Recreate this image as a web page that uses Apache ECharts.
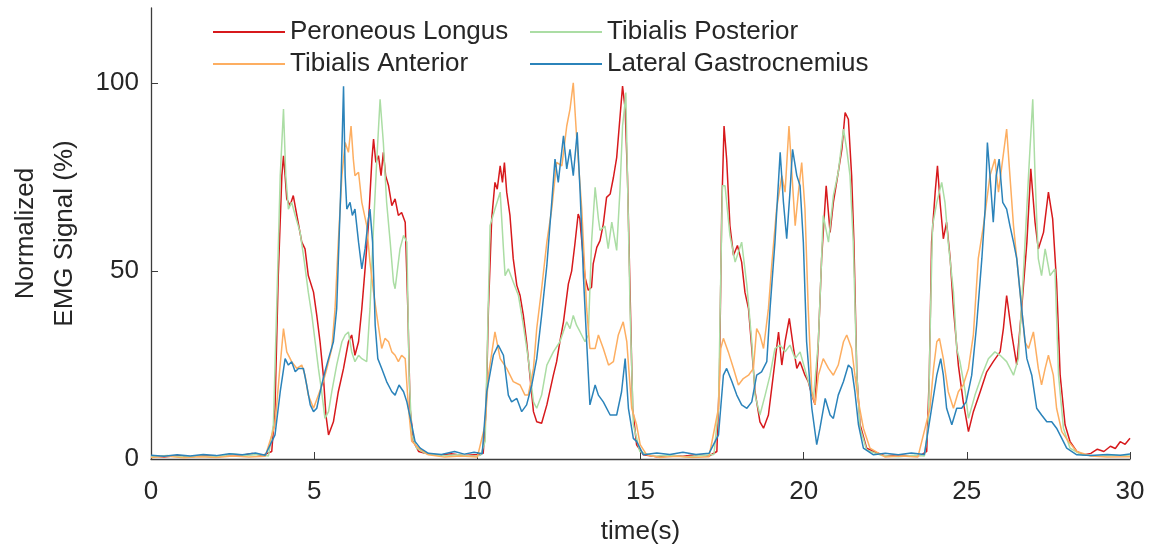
<!DOCTYPE html>
<html>
<head>
<meta charset="utf-8">
<script src="https://cdn.jsdelivr.net/npm/echarts@6/dist/echarts.min.js"></script>
<style>
html,body{margin:0;padding:0;background:#fff;}
#chart{width:1166px;height:558px;}
</style>
</head>
<body>
<div id="chart"></div>
<script>
// ---- data: [time (s), normalized EMG (%)] ----
const seriesNames = ['Peroneous Longus', 'Tibialis Posterior', 'Tibialis Anterior', 'Lateral Gastrocnemius'];
const xTicks = [0, 5, 10, 15, 20, 25, 30];
const yTicks = [0, 50, 100];

const peroneousLongus = [
[0,0.8],[0.4,0.5],[0.8,0.9],[1.2,0.6],[1.6,0.9],[2.0,0.7],[2.4,1.2],[2.8,1.0],[3.1,1.5],[3.4,0.9],[3.70,2.0],
[3.80,13.5],[3.90,48.8],[4.01,75.4],[4.06,80.7],[4.11,75.4],[4.16,69.2],[4.26,67.4],[4.36,70.1],[4.47,64.8],[4.62,57.7],[4.72,55.9],[4.82,48.8],[4.98,44.4],[5.08,38.2],[5.18,31.2],[5.28,22.3],[5.36,11.7],[5.44,6.4],[5.59,9.9],[5.74,17.9],[5.90,24.1],[6.05,31.2],[6.15,33.0],[6.25,27.6],[6.36,31.2],[6.46,40.0],[6.56,50.6],[6.66,62.1],[6.77,79.8],[6.82,85.1],[6.89,78.9],[6.97,80.7],[7.05,75.4],[7.12,81.6],[7.19,75.4],[7.28,72.7],[7.38,67.4],[7.48,69.2],[7.58,64.8],[7.68,65.6],[7.79,63.0],[7.87,40.0],[7.94,13.5],[8.04,4.7],[8.20,2.0],[8.40,1.5],
[8.8,1.0],[9.2,1.4],[9.6,0.9],[10.0,1.2],[10.18,1.5],
[10.27,13.5],[10.34,40.0],[10.44,63.9],[10.54,73.6],[10.61,71.8],[10.70,78.0],[10.77,73.6],[10.83,78.9],[10.90,71.0],[11.00,64.8],[11.10,53.3],[11.21,46.2],[11.31,43.5],[11.41,38.2],[11.51,31.2],[11.61,22.3],[11.72,12.6],[11.82,9.9],[11.97,9.5],[12.13,14.4],[12.33,22.3],[12.43,25.9],[12.53,31.2],[12.64,36.5],[12.79,46.6],[12.89,50.0],[12.99,57.2],[13.09,65.2],[13.14,64.0],[13.20,58.0],[13.30,48.4],[13.40,44.9],[13.50,45.7],[13.55,51.9],[13.66,56.3],[13.76,58.1],[13.86,62.5],[13.96,69.6],[14.07,70.5],[14.17,74.9],[14.27,80.2],[14.37,90.8],[14.45,99.2],[14.53,93.1],[14.60,75.4],[14.68,44.4],[14.76,13.5],[14.88,3.8],[15.09,1.1],
[15.5,0.6],[15.9,1.0],[16.3,0.7],[16.7,1.1],[17.1,0.8],[17.34,2.0],
[17.42,22.3],[17.49,66.5],[17.56,88.6],[17.64,79.8],[17.74,62.1],[17.85,54.2],[17.97,56.8],[18.10,52.4],[18.20,44.4],[18.31,40.0],[18.41,29.4],[18.51,17.9],[18.66,9.9],[18.77,8.2],[18.92,11.7],[19.07,22.3],[19.23,33.8],[19.33,25.0],[19.43,31.2],[19.56,37.4],[19.69,29.4],[19.79,24.1],[19.89,25.9],[20.04,22.3],[20.14,20.6],[20.25,17.0],[20.35,14.4],[20.45,31.2],[20.55,53.3],[20.69,72.7],[20.81,60.3],[20.91,68.3],[21.01,73.6],[21.17,82.4],[21.27,92.2],[21.37,90.4],[21.47,75.4],[21.54,57.7],[21.63,22.3],[21.73,9.1],[21.93,2.9],[22.14,2.0],
[22.5,0.8],[22.9,1.1],[23.3,0.7],[23.6,1.0],[23.77,2.0],
[23.85,22.3],[23.92,57.7],[24.03,71.0],[24.10,78.0],[24.18,68.3],[24.28,58.6],[24.38,63.0],[24.49,53.3],[24.59,40.0],[24.74,25.0],[24.89,15.2],[25.05,7.3],[25.20,12.6],[25.41,17.9],[25.61,23.2],[25.81,25.9],[26.02,28.5],[26.12,34.7],[26.22,43.5],[26.38,33.0],[26.53,25.0],[26.68,40.0],[26.84,57.7],[26.96,77.2],[27.09,63.0],[27.19,55.9],[27.35,60.3],[27.50,71.0],[27.63,63.9],[27.75,47.1],[27.86,22.3],[28.01,9.1],[28.16,4.7],[28.37,2.0],[28.57,1.1],
[28.8,1.5],[29.0,2.6],[29.2,2.0],[29.4,3.4],[29.55,2.8],[29.7,4.6],[29.85,3.9],[30,5.5]
];

const tibialisPosterior = [
[0,0.6],[0.5,0.9],[1.0,0.5],[1.5,0.8],[2.0,0.6],[2.5,1.3],[2.9,0.9],[3.3,1.2],[3.6,0.8],
[3.75,9.1],[3.85,40.0],[3.96,75.4],[4.06,93.1],[4.13,75.4],[4.21,66.5],[4.31,68.3],[4.42,64.8],[4.57,60.3],[4.70,52.4],[4.82,44.4],[4.93,38.2],[5.03,31.2],[5.13,24.1],[5.23,17.9],[5.33,10.8],[5.44,12.6],[5.54,17.9],[5.69,25.0],[5.85,31.2],[5.95,33.0],[6.05,33.8],[6.15,28.5],[6.25,25.9],[6.36,27.6],[6.46,26.7],[6.61,25.9],[6.71,40.0],[6.82,62.1],[6.92,79.8],[7.02,95.7],[7.12,84.2],[7.22,68.3],[7.33,57.7],[7.43,47.1],[7.48,45.3],[7.53,48.8],[7.63,55.9],[7.74,59.5],[7.84,57.7],[7.91,22.3],[7.99,6.4],[8.14,2.9],[8.40,1.5],
[8.9,0.8],[9.4,1.1],[9.9,0.7],[10.1,1.0],
[10.24,4.7],[10.31,31.2],[10.39,62.1],[10.54,66.5],[10.70,71.0],[10.80,55.9],[10.85,48.8],[10.95,50.6],[11.10,47.1],[11.26,43.5],[11.41,35.6],[11.56,26.7],[11.72,15.2],[11.82,13.5],[11.97,17.0],[12.13,25.0],[12.33,28.5],[12.53,31.2],[12.74,36.5],[12.84,34.7],[12.94,38.2],[13.04,35.6],[13.15,33.8],[13.30,31.2],[13.40,33.0],[13.50,57.7],[13.61,72.3],[13.71,63.9],[13.76,60.8],[13.91,62.0],[14.01,56.0],[14.12,63.0],[14.27,55.5],[14.37,71.4],[14.45,88.6],[14.50,92.6],[14.55,97.5],[14.60,75.4],[14.68,40.0],[14.78,9.1],[14.98,2.0],
[15.4,0.7],[15.9,1.0],[16.4,0.6],[16.9,0.9],[17.25,1.2],
[17.39,13.5],[17.46,48.8],[17.51,72.7],[17.59,72.7],[17.74,59.5],[17.90,52.4],[18.10,57.7],[18.26,46.2],[18.41,31.2],[18.51,17.0],[18.66,11.7],[18.82,17.0],[18.97,22.3],[19.12,29.4],[19.28,30.3],[19.43,28.5],[19.58,30.3],[19.74,26.7],[19.89,28.5],[20.09,22.3],[20.30,16.1],[20.45,31.2],[20.60,64.8],[20.76,57.7],[20.91,70.1],[21.06,76.3],[21.22,87.8],[21.32,82.4],[21.42,75.4],[21.52,57.7],[21.63,22.3],[21.73,8.2],[21.93,2.4],
[22.4,0.9],[22.9,0.6],[23.4,1.0],[23.7,0.8],
[23.82,9.1],[23.89,40.0],[23.95,62.1],[24.08,68.3],[24.23,73.6],[24.33,68.3],[24.43,57.7],[24.59,44.4],[24.69,29.4],[24.79,25.9],[24.95,17.9],[25.05,10.8],[25.25,17.0],[25.46,22.3],[25.66,26.7],[25.86,28.5],[26.02,27.6],[26.22,25.9],[26.43,22.3],[26.58,26.7],[26.73,48.8],[26.89,75.4],[27.02,95.7],[27.09,75.4],[27.19,53.3],[27.29,48.8],[27.40,55.9],[27.55,48.8],[27.70,50.6],[27.81,22.3],[27.96,8.2],[28.16,2.9],
[28.5,1.2],[29.0,0.7],[29.5,1.0],[30,0.8]
];

const tibialisAnterior = [
[0,0.4],[0.5,0.7],[1.0,0.3],[1.5,0.6],[2.0,0.4],[2.5,0.8],[3.0,0.5],[3.5,0.7],
[3.80,9.1],[3.93,22.3],[4.06,34.7],[4.16,28.5],[4.31,25.9],[4.47,24.1],[4.62,25.0],[4.72,22.3],[4.82,17.0],[4.98,13.5],[5.13,17.0],[5.28,20.6],[5.39,24.1],[5.54,29.4],[5.64,40.0],[5.74,57.7],[5.85,75.4],[5.95,84.2],[6.05,81.6],[6.13,88.6],[6.20,79.8],[6.25,75.4],[6.36,76.3],[6.46,68.3],[6.61,62.1],[6.71,52.4],[6.82,44.4],[6.92,38.2],[7.07,29.4],[7.17,32.1],[7.28,31.2],[7.38,28.5],[7.48,27.6],[7.58,25.9],[7.68,27.6],[7.79,26.7],[7.89,13.5],[7.99,4.7],[8.20,2.9],[8.50,1.1],
[9.0,0.5],[9.5,0.8],[10.0,0.5],
[10.24,9.1],[10.34,22.3],[10.54,33.8],[10.70,26.7],[10.90,24.1],[11.10,20.6],[11.31,19.7],[11.46,17.0],[11.56,17.0],[11.72,24.1],[11.82,34.7],[11.97,45.3],[12.13,57.7],[12.28,66.5],[12.43,78.9],[12.59,78.0],[12.74,88.6],[12.84,93.1],[12.94,100.1],[13.04,86.0],[13.20,66.5],[13.35,40.0],[13.45,29.4],[13.61,29.4],[13.71,33.0],[13.86,29.4],[14.02,25.0],[14.17,25.9],[14.32,33.0],[14.47,36.5],[14.58,31.2],[14.73,13.5],[14.88,9.1],[14.99,3.8],[15.19,1.1],
[15.6,0.4],[16.1,0.7],[16.6,0.4],[17.1,0.6],
[17.39,13.5],[17.46,29.4],[17.54,32.1],[17.69,28.5],[17.85,24.1],[18.00,19.7],[18.15,21.4],[18.31,22.3],[18.46,24.1],[18.56,34.7],[18.66,33.0],[18.77,29.4],[18.92,40.0],[19.02,51.5],[19.17,66.5],[19.33,75.4],[19.43,71.0],[19.55,88.6],[19.63,77.2],[19.74,62.1],[19.84,71.0],[19.94,78.9],[20.04,66.5],[20.14,40.0],[20.25,17.9],[20.35,14.4],[20.45,22.3],[20.60,26.7],[20.76,24.1],[20.91,22.3],[21.06,25.0],[21.22,31.2],[21.32,33.0],[21.47,29.4],[21.57,22.3],[21.68,15.2],[21.83,8.2],[22.03,2.9],
[22.5,0.5],[23.0,0.8],[23.5,0.5],
[23.87,13.5],[23.98,24.1],[24.08,31.2],[24.16,32.1],[24.28,26.7],[24.43,17.9],[24.59,13.5],[24.74,17.9],[24.89,19.7],[25.05,24.1],[25.20,33.0],[25.35,53.3],[25.51,62.1],[25.71,75.4],[25.86,79.8],[25.97,71.0],[26.10,79.8],[26.22,87.8],[26.32,75.4],[26.43,62.1],[26.53,53.3],[26.68,40.0],[26.78,31.2],[26.89,29.4],[27.04,33.8],[27.19,24.1],[27.29,19.7],[27.40,24.1],[27.50,27.6],[27.65,22.3],[27.75,13.5],[27.91,7.3],[28.11,4.7],[28.37,2.0],
[28.8,0.8],[29.3,0.5],[30,0.6]
];

const lateralGastrocnemius = [
[0,1.0],[0.4,0.7],[0.8,1.1],[1.2,0.8],[1.6,1.2],[2.0,0.9],[2.4,1.4],[2.8,1.1],[3.2,1.6],[3.5,1.0],
[3.80,6.4],[3.96,17.9],[4.11,26.7],[4.21,25.0],[4.31,25.9],[4.42,23.2],[4.52,24.1],[4.67,24.1],[4.77,19.7],[4.88,14.4],[4.98,12.6],[5.08,13.5],[5.23,19.7],[5.33,23.2],[5.44,26.7],[5.59,31.2],[5.69,40.0],[5.76,57.7],[5.83,75.4],[5.90,99.2],[5.95,75.4],[6.00,66.5],[6.10,68.3],[6.17,64.8],[6.25,66.5],[6.36,57.7],[6.46,50.6],[6.56,55.9],[6.66,63.9],[6.71,66.5],[6.79,57.7],[6.87,35.6],[6.95,26.7],[7.07,24.1],[7.22,20.6],[7.38,17.9],[7.48,17.0],[7.60,19.7],[7.74,17.9],[7.84,15.2],[7.99,9.1],[8.09,4.7],[8.25,2.9],[8.50,1.5],
[8.9,1.2],[9.3,2.0],[9.6,1.3],[9.9,1.8],[10.15,1.4],
[10.29,17.9],[10.49,27.6],[10.64,30.3],[10.80,27.6],[10.95,17.0],[11.05,15.2],[11.21,16.1],[11.36,12.6],[11.51,14.4],[11.67,19.7],[11.82,26.7],[11.97,38.2],[12.13,51.5],[12.28,68.3],[12.38,79.8],[12.48,73.6],[12.64,86.0],[12.74,77.2],[12.84,82.4],[12.94,75.4],[13.06,86.9],[13.15,71.0],[13.25,48.8],[13.35,31.2],[13.45,14.4],[13.61,19.7],[13.71,17.0],[13.86,15.2],[14.07,11.7],[14.27,11.7],[14.42,17.9],[14.53,26.7],[14.63,13.5],[14.78,5.5],[14.88,4.7],[15.09,1.1],
[15.5,1.6],[15.9,1.2],[16.3,1.8],[16.7,1.2],[17.1,1.5],
[17.39,6.4],[17.54,22.3],[17.64,24.1],[17.80,20.6],[17.95,17.0],[18.10,14.4],[18.26,13.5],[18.41,15.2],[18.56,22.3],[18.71,23.2],[18.87,25.9],[18.97,40.0],[19.12,57.7],[19.28,81.6],[19.38,68.3],[19.48,58.6],[19.58,71.0],[19.66,82.4],[19.79,75.4],[19.89,72.7],[19.99,57.7],[20.09,31.2],[20.25,13.5],[20.40,3.8],[20.50,8.2],[20.66,16.1],[20.81,11.7],[20.91,10.8],[21.06,17.0],[21.22,20.6],[21.37,25.0],[21.47,24.1],[21.57,17.9],[21.68,9.1],[21.83,2.9],[22.14,1.1],
[22.5,1.5],[22.9,1.1],[23.3,1.6],[23.7,1.2],
[23.92,13.5],[24.08,22.3],[24.20,26.7],[24.28,22.3],[24.38,13.5],[24.54,9.1],[24.69,13.5],[24.84,13.5],[24.98,15.2],[25.15,22.3],[25.30,35.6],[25.46,53.3],[25.56,66.5],[25.63,84.2],[25.71,75.4],[25.81,63.0],[25.90,75.4],[25.99,79.8],[26.10,68.3],[26.22,66.5],[26.32,62.1],[26.43,57.7],[26.53,53.3],[26.68,40.0],[26.84,26.7],[26.99,22.3],[27.14,13.5],[27.29,11.7],[27.45,9.9],[27.60,9.9],[27.75,8.2],[27.91,5.5],[28.06,2.9],[28.37,1.1],
[28.8,0.9],[29.3,1.2],[29.7,1.0],[30,1.3]
];

const colors = ['#d7191c', '#abdda4', '#fdae61', '#2b83ba'];
const dataSets = [peroneousLongus, tibialisPosterior, tibialisAnterior, lateralGastrocnemius];

const chart = echarts.init(document.getElementById('chart'), null, {renderer: 'canvas'});
const font = 'Liberation Sans, Arial, sans-serif';
const textColor = '#262626';

const legendCommon = {
  orient: 'vertical',
  icon: 'rect',
  itemWidth: 72,
  itemHeight: 2,
  itemGap: 6,
  padding: 0,
  textStyle: {fontFamily: font, fontSize: 26, color: textColor, lineHeight: 26},
  selectedMode: false
};

chart.setOption({
  animation: false,
  backgroundColor: '#ffffff',
  color: colors,
  legend: [
    Object.assign({}, legendCommon, {left: 213, top: 19, data: [seriesNames[0], seriesNames[2]]}),
    Object.assign({}, legendCommon, {left: 530, top: 19, data: [seriesNames[1], seriesNames[3]]})
  ],
  grid: {left: 151, right: 36, top: 8, bottom: 99, containLabel: false, outerBoundsMode: 'none'},
  xAxis: {
    type: 'value',
    min: 0, max: 30, interval: 5,
    name: 'time(s)',
    nameLocation: 'middle',
    nameGap: 60,
    nameTextStyle: {fontFamily: font, fontSize: 26, color: textColor},
    axisLine: {lineStyle: {color: '#3c3c3c', width: 1.3}},
    axisTick: {inside: true, length: 7, lineStyle: {color: '#3c3c3c'}},
    axisLabel: {fontFamily: font, fontSize: 26, color: textColor, margin: 20,
      customValues: xTicks},
    splitLine: {show: false}
  },
  yAxis: {
    type: 'value',
    min: 0, max: 120, interval: 50,
    name: 'Normalized\nEMG Signal (%)',
    nameLocation: 'middle',
    nameRotate: 90,
    nameGap: 66,
    nameTextStyle: {fontFamily: font, fontSize: 26, color: textColor, lineHeight: 39},
    axisLine: {show: true, lineStyle: {color: '#3c3c3c', width: 1.3}},
    axisTick: {show: true, inside: true, length: 7, lineStyle: {color: '#3c3c3c'}, customValues: yTicks},
    axisLabel: {fontFamily: font, fontSize: 26, color: textColor, margin: 12, customValues: yTicks},
    splitLine: {show: false}
  },
  series: seriesNames.map((n, i) => ({
    name: n,
    type: 'line',
    data: dataSets[i],
    showSymbol: false,
    symbol: 'none',
    lineStyle: {width: 1.5, color: colors[i]},
    itemStyle: {color: colors[i]},
    z: 2 + i
  }))
});
</script>
</body>
</html>
